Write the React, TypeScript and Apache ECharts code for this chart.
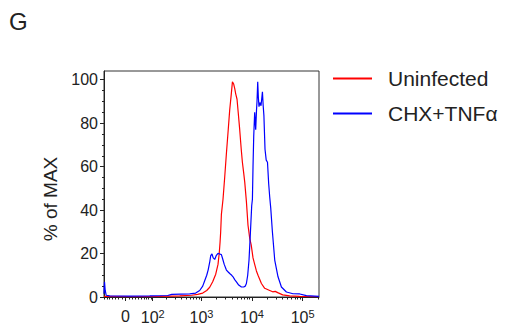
import React, { useEffect, useRef } from 'react';
import * as echarts from 'echarts';

// x positions are in display (biexponential) units: 10^k sits at k, 0 sits at 1.5
const uninfChannel = [1.075, 1.583, 2.176, 2.571, 2.808, 2.927, 3.026, 3.105, 3.164, 3.223, 3.283, 3.328, 3.352, 3.368, 3.381, 3.395, 3.427, 3.46, 3.494, 3.53, 3.559, 3.589, 3.613, 3.638, 3.658, 3.678, 3.704, 3.727, 3.757, 3.787, 3.81, 3.836, 3.856, 3.889, 3.921, 3.955, 3.984, 4.02, 4.053, 4.087, 4.119, 4.186, 4.251, 4.35, 4.409, 4.459, 4.508, 4.607, 4.745, 4.943, 5.324];
const uninfPct = [0.3, 0.2, 0.3, 0.5, 0.8, 1.2, 1.8, 3, 4.5, 7, 10.5, 15, 20, 25, 30, 38, 45, 55, 66, 77, 86, 93, 99, 98, 96, 93.5, 91, 85, 77, 68, 62, 57, 53, 44, 33, 27, 24, 18, 15, 12, 10, 6.2, 4, 3, 2.4, 2.6, 2.0, 1.0, 0.5, 0.3, 0.2];

const chxChannel = [1.075, 1.085, 1.099, 1.119, 1.188, 1.583, 1.978, 2.334, 2.413, 2.769, 2.887, 2.966, 3.026, 3.065, 3.105, 3.134, 3.164, 3.184, 3.209, 3.233, 3.263, 3.292, 3.328, 3.362, 3.395, 3.421, 3.451, 3.494, 3.53, 3.559, 3.599, 3.625, 3.658, 3.692, 3.737, 3.791, 3.836, 3.866, 3.889, 3.915, 3.941, 3.968, 3.994, 4.008, 4.02, 4.034, 4.053, 4.073, 4.089, 4.099, 4.113, 4.125, 4.138, 4.156, 4.178, 4.206, 4.221, 4.235, 4.257, 4.281, 4.306, 4.33, 4.35, 4.37, 4.403, 4.449, 4.514, 4.581, 4.68, 4.81, 4.943, 5.075, 5.324];
const chxPct = [1.5, 7, 3, 0.8, 0.5, 0.4, 0.5, 0.7, 1.2, 1.4, 1.8, 3, 5, 7.5, 10, 12.5, 16, 19, 19.8, 18, 17.3, 19, 20.1, 19.8, 19.5, 17.5, 15, 12.4, 11.5, 10.8, 10, 9.3, 8, 7, 5.5, 4.6, 4.6, 5, 6.2, 10, 17, 29.4, 42, 45, 60, 74, 85, 77, 86, 90, 99, 92, 87.6, 89.5, 88, 94.4, 88, 83.6, 68, 63, 62, 52, 46, 41, 30, 17, 9.3, 4.6, 2.3, 1.5, 1.4, 0.6, 0.3];

const seriesNames = ['Uninfected', 'CHX+TNF\u03b1'];
const seriesColors = ['#ff0000', '#0000ff'];

const xMajorValues = [0, 100, 1000, 10000, 100000];
const xMajorLabels = ['0', '{b|10}{s|2}', '{b|10}{s|3}', '{b|10}{s|4}', '{b|10}{s|5}'];
const xMinorValues = [-70, -60, -50, -40, -30, -20, -10, 10, 20, 30, 40, 50, 60, 70, 80, 90,
  200, 300, 400, 500, 600, 700, 800, 900,
  2000, 3000, 4000, 5000, 6000, 7000, 8000, 9000,
  20000, 30000, 40000, 50000, 60000, 70000, 80000, 90000, 200000];
const yMajorValues = [0, 20, 40, 60, 80, 100];
const yMinorValues = [5, 10, 15, 25, 30, 35, 45, 50, 55, 65, 70, 75, 85, 90, 95];

const X_MIN = 1.075;
const X_MAX = 5.324;
const Y_MAX = 104;

const biex = (v: number) => Math.asinh(v / 63.2) / Math.LN10 + 1.5;

const FONT = '"Liberation Sans", Arial, sans-serif';
const INK = '#222';

export default function App() {
  const ref = useRef<HTMLDivElement>(null);
  useEffect(() => {
    if (!ref.current) return;
    const chart = echarts.init(ref.current, undefined, { renderer: 'svg' });
    const majorPos = xMajorValues.map(biex);
    const minorPos = xMinorValues.map(biex).filter((t) => t >= X_MIN && t <= X_MAX);
    const grid = { left: 104, right: 188, top: 71, bottom: 32, show: true, borderColor: '#333', borderWidth: 1 };
    chart.setOption({
      animation: false,
      color: seriesColors,
      textStyle: { fontFamily: FONT },
      title: { text: 'G', left: 4, top: 4, textStyle: { fontFamily: FONT, fontSize: 24, fontWeight: 'normal', color: INK } },
      grid,
      legend: {
        orient: 'vertical',
        left: 328,
        top: 63,
        itemGap: 14,
        itemWidth: 39,
        itemHeight: 2,
        icon: 'rect',
        data: seriesNames,
        textStyle: { fontFamily: FONT, fontSize: 21, color: INK, padding: [0, 0, 0, 11], lineHeight: 21 },
      },
      xAxis: [
        {
          type: 'value', min: X_MIN, max: X_MAX,
          axisLine: { show: true, onZero: false, lineStyle: { color: INK, width: 1 } },
          axisTick: { show: true, length: 4, customValues: majorPos, lineStyle: { color: INK } },
          axisLabel: {
            show: true, margin: 11, customValues: majorPos, color: INK, fontSize: 16, fontFamily: FONT,
            formatter: (val: number) => {
              const i = majorPos.findIndex((p) => Math.abs(p - val) < 1e-6);
              return i >= 0 ? xMajorLabels[i] : '';
            },
            rich: {
              b: { fontSize: 16, fontFamily: FONT, color: INK, lineHeight: 18 },
              s: { fontSize: 11, fontFamily: FONT, color: INK, lineHeight: 11, verticalAlign: 'top' },
            },
          },
          splitLine: { show: false },
        },
        {
          type: 'value', min: X_MIN, max: X_MAX, position: 'bottom',
          axisLine: { show: false, onZero: false },
          axisTick: { show: true, length: 2.5, customValues: minorPos, lineStyle: { color: INK } },
          axisLabel: { show: false },
          splitLine: { show: false },
        },
      ],
      yAxis: [
        {
          type: 'value', min: 0, max: Y_MAX,
          name: '% of MAX', nameLocation: 'middle', nameGap: 44, nameRotate: 90,
          nameTextStyle: { fontFamily: FONT, fontSize: 19, color: INK, padding: [0, 30, 0, 0] },
          axisLine: { show: true, onZero: false, lineStyle: { color: INK, width: 1 } },
          axisTick: { show: true, length: 4, customValues: yMajorValues, lineStyle: { color: INK } },
          axisLabel: { show: true, margin: 6, customValues: yMajorValues, color: INK, fontSize: 16, fontFamily: FONT },
          splitLine: { show: false },
        },
        {
          type: 'value', min: 0, max: Y_MAX, position: 'left',
          axisLine: { show: false, onZero: false },
          axisTick: { show: true, length: 2, customValues: yMinorValues, lineStyle: { color: INK } },
          axisLabel: { show: false },
          splitLine: { show: false },
        },
      ],
      series: [
        {
          name: seriesNames[0], type: 'line', showSymbol: false, symbol: 'none',
          lineStyle: { width: 1.2, color: seriesColors[0] },
          data: uninfChannel.map((x, i) => [x, uninfPct[i]]),
        },
        {
          name: seriesNames[1], type: 'line', showSymbol: false, symbol: 'none',
          lineStyle: { width: 1.2, color: seriesColors[1] },
          data: chxChannel.map((x, i) => [x, chxPct[i]]),
        },
      ],
    });
    return () => chart.dispose();
  }, []);
  return <div ref={ref} style={{ width: 507, height: 329, position: 'absolute', left: 0, top: 0 }} />;
}
